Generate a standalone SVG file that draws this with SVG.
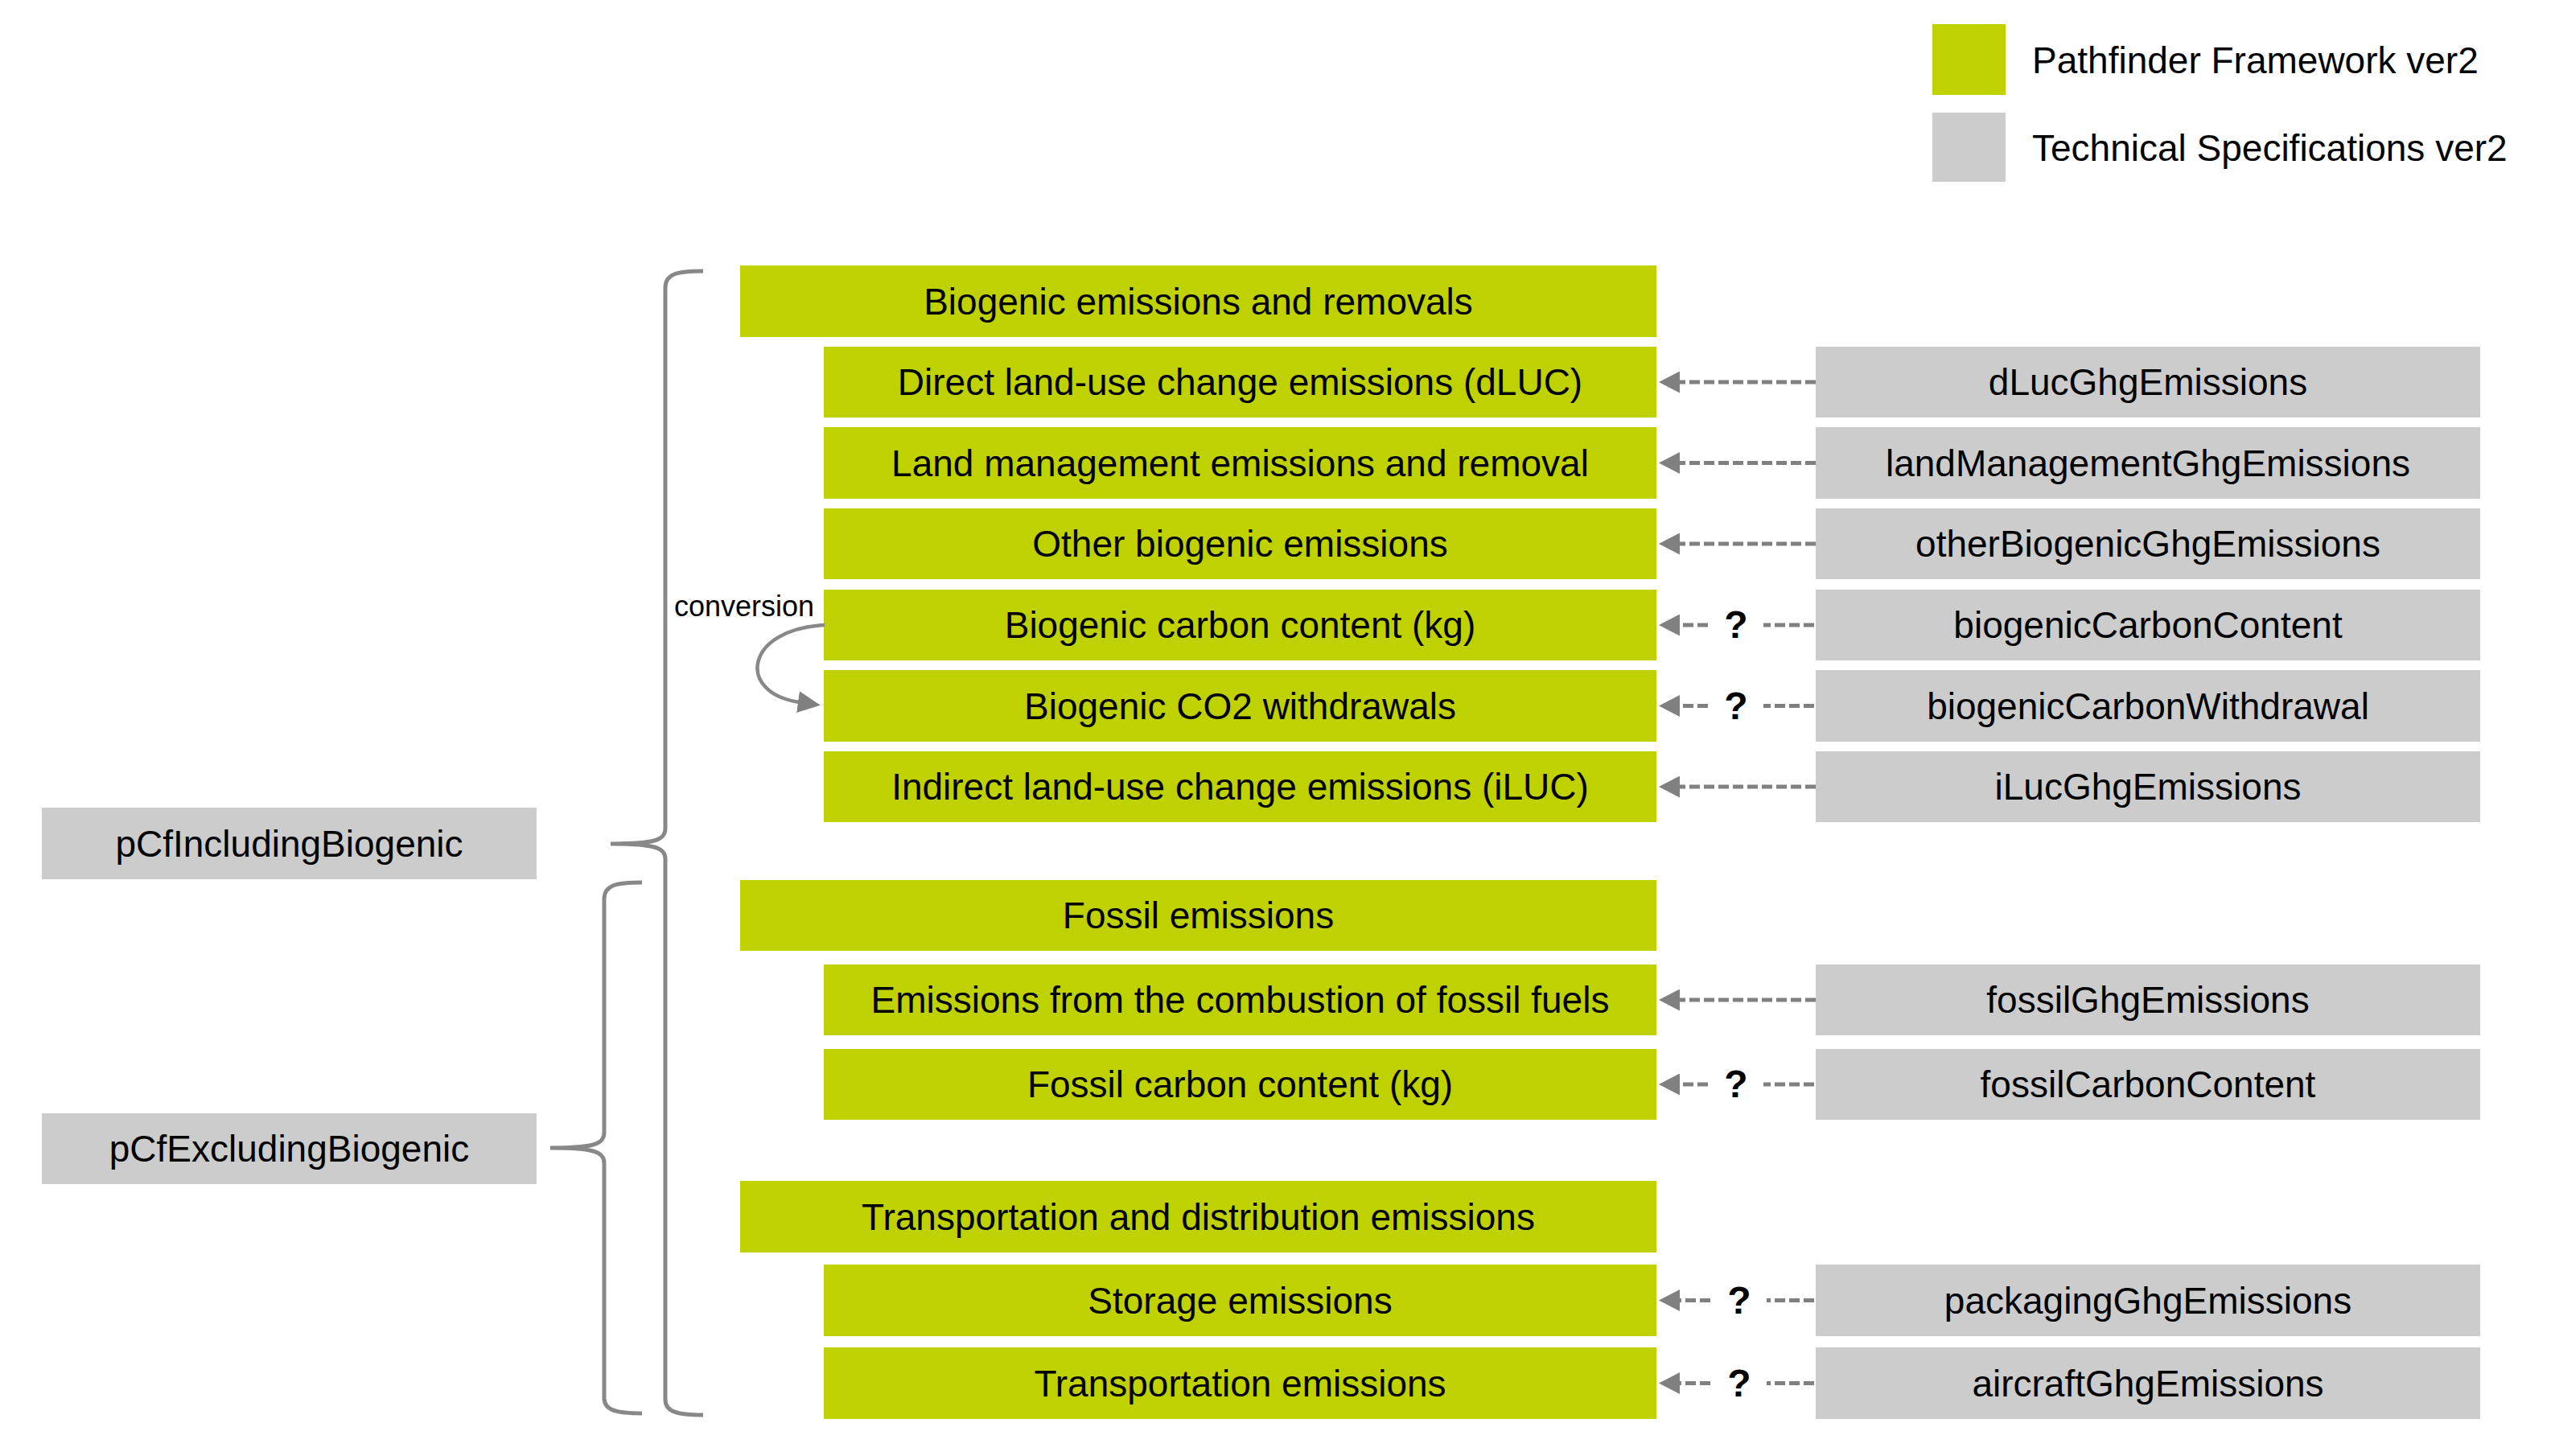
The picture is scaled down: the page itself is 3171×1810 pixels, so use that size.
<svg xmlns="http://www.w3.org/2000/svg" width="3171" height="1810" viewBox="0 0 3171 1810">
<style>
.g{fill:#BFD200}
.s{fill:#CCCCCC}
text{font-family:"Liberation Sans",Arial,sans-serif;font-size:46px;fill:#000;text-anchor:middle}
.lg{text-anchor:start}
.q{font-weight:900;font-size:48px}
.cv{font-size:36px;text-anchor:start}
.d{stroke:#808080;stroke-width:5;stroke-dasharray:13 5;fill:none}
.br{stroke:#888;stroke-width:5;fill:none}
</style>
<defs>
<marker id="ah" viewBox="0 0 26 27" refX="0" refY="13.5" markerWidth="26" markerHeight="27" markerUnits="userSpaceOnUse" orient="auto">
<path d="M0,0 L26,13.5 L0,27 z" fill="#808080"/>
</marker>
<marker id="ah2" viewBox="0 0 28 27" refX="2" refY="13.5" markerWidth="28" markerHeight="27" markerUnits="userSpaceOnUse" orient="auto">
<path d="M0,0 L28,13.5 L0,27 z" fill="#808080"/>
</marker>
</defs>
<rect width="3171" height="1810" fill="#fff"/>

<g id="legend">
<rect class="g" x="2402" y="30" width="91" height="88"/>
<text class="lg" x="2526" y="91">Pathfinder Framework ver2</text>
<rect class="s" x="2402" y="140" width="91" height="86"/>
<text class="lg" x="2526" y="200">Technical Specifications ver2</text>
</g>

<g id="pCfIncludingBiogenic"><rect class="s" x="52" y="1004" width="615" height="89"/><text x="359.5" y="1065">pCfIncludingBiogenic</text></g>
<g id="pCfExcludingBiogenic"><rect class="s" x="52" y="1384" width="615" height="88"/><text x="359.5" y="1444">pCfExcludingBiogenic</text></g>

<g id="biogenicHeader"><rect class="g" x="920" y="330" width="1139" height="89"/><text x="1489.5" y="391">Biogenic emissions and removals</text></g>
<g id="dLUC"><rect class="g" x="1024" y="431" width="1035" height="88"/><text x="1541.5" y="491">Direct land-use change emissions (dLUC)</text></g>
<g id="landMgmt"><rect class="g" x="1024" y="531" width="1035" height="89"/><text x="1541.5" y="592">Land management emissions and removal</text></g>
<g id="otherBio"><rect class="g" x="1024" y="632" width="1035" height="88"/><text x="1541.5" y="692">Other biogenic emissions</text></g>
<g id="bioCarbon"><rect class="g" x="1024" y="733" width="1035" height="88"/><text x="1541.5" y="793">Biogenic carbon content (kg)</text></g>
<g id="bioCO2"><rect class="g" x="1024" y="833" width="1035" height="89"/><text x="1541.5" y="894">Biogenic CO2 withdrawals</text></g>
<g id="iLUC"><rect class="g" x="1024" y="934" width="1035" height="88"/><text x="1541.5" y="994">Indirect land-use change emissions (iLUC)</text></g>

<g id="fossilHeader"><rect class="g" x="920" y="1094" width="1139" height="88"/><text x="1489.5" y="1154">Fossil emissions</text></g>
<g id="fossilComb"><rect class="g" x="1024" y="1199" width="1035" height="88"/><text x="1541.5" y="1259">Emissions from the combustion of fossil fuels</text></g>
<g id="fossilCarbon"><rect class="g" x="1024" y="1304" width="1035" height="88"/><text x="1541.5" y="1364">Fossil carbon content (kg)</text></g>

<g id="transHeader"><rect class="g" x="920" y="1468" width="1139" height="89"/><text x="1489.5" y="1529">Transportation and distribution emissions</text></g>
<g id="storage"><rect class="g" x="1024" y="1572" width="1035" height="89"/><text x="1541.5" y="1633">Storage emissions</text></g>
<g id="transport"><rect class="g" x="1024" y="1675" width="1035" height="89"/><text x="1541.5" y="1736">Transportation emissions</text></g>

<g id="dLucGhgEmissions"><rect class="s" x="2257" y="431" width="826" height="88"/><text x="2670" y="491">dLucGhgEmissions</text></g>
<g id="landManagementGhgEmissions"><rect class="s" x="2257" y="531" width="826" height="89"/><text x="2670" y="592">landManagementGhgEmissions</text></g>
<g id="otherBiogenicGhgEmissions"><rect class="s" x="2257" y="632" width="826" height="88"/><text x="2670" y="692">otherBiogenicGhgEmissions</text></g>
<g id="biogenicCarbonContent"><rect class="s" x="2257" y="733" width="826" height="88"/><text x="2670" y="793">biogenicCarbonContent</text></g>
<g id="biogenicCarbonWithdrawal"><rect class="s" x="2257" y="833" width="826" height="89"/><text x="2670" y="894">biogenicCarbonWithdrawal</text></g>
<g id="iLucGhgEmissions"><rect class="s" x="2257" y="934" width="826" height="88"/><text x="2670" y="994">iLucGhgEmissions</text></g>
<g id="fossilGhgEmissions"><rect class="s" x="2257" y="1199" width="826" height="88"/><text x="2670" y="1259">fossilGhgEmissions</text></g>
<g id="fossilCarbonContent"><rect class="s" x="2257" y="1304" width="826" height="88"/><text x="2670" y="1364">fossilCarbonContent</text></g>
<g id="packagingGhgEmissions"><rect class="s" x="2257" y="1572" width="826" height="89"/><text x="2670" y="1633">packagingGhgEmissions</text></g>
<g id="aircraftGhgEmissions"><rect class="s" x="2257" y="1675" width="826" height="89"/><text x="2670" y="1736">aircraftGhgEmissions</text></g>

<g id="connectors">
<path class="br" d="M874,337 C842,337 827,340 827,358 L827,1030 C827,1044 815,1049 759,1049 C815,1049 827,1054 827,1068 L827,1740 C827,1755 842,1759 874,1759"/>
<path class="br" d="M798,1097 C766,1097 751,1100 751,1118 L751,1408 C751,1422 739,1427 684,1427 C739,1427 751,1432 751,1446 L751,1738 C751,1753 766,1757 798,1757"/>
<path d="M1025,777 C925,782 915,862 994,873" stroke="#888" stroke-width="4.5" fill="none" marker-end="url(#ah2)"/>
<text class="cv" x="838" y="766">conversion</text>

<path class="d" d="M2257,475 L2088,475" marker-end="url(#ah)"/>
<path class="d" d="M2257,575.5 L2088,575.5" marker-end="url(#ah)"/>
<path class="d" d="M2257,676 L2088,676" marker-end="url(#ah)"/>
<path class="d" d="M2257,978 L2088,978" marker-end="url(#ah)"/>
<path class="d" d="M2257,1243 L2088,1243" marker-end="url(#ah)"/>

<path class="d" d="M2123,777 L2088,777" marker-end="url(#ah)"/>
<path class="d" d="M2255,777 L2192,777"/>
<text class="q" x="2158" y="793">?</text>
<path class="d" d="M2123,877.5 L2088,877.5" marker-end="url(#ah)"/>
<path class="d" d="M2255,877.5 L2192,877.5"/>
<text class="q" x="2158" y="894">?</text>
<path class="d" d="M2123,1348 L2088,1348" marker-end="url(#ah)"/>
<path class="d" d="M2255,1348 L2192,1348"/>
<text class="q" x="2158" y="1364">?</text>
<path class="d" d="M2126,1616.5 L2088,1616.5" marker-end="url(#ah)"/>
<path class="d" d="M2255,1616.5 L2196,1616.5"/>
<text class="q" x="2162" y="1633">?</text>
<path class="d" d="M2126,1719.5 L2088,1719.5" marker-end="url(#ah)"/>
<path class="d" d="M2255,1719.5 L2196,1719.5"/>
<text class="q" x="2162" y="1736">?</text>
</g>
</svg>
